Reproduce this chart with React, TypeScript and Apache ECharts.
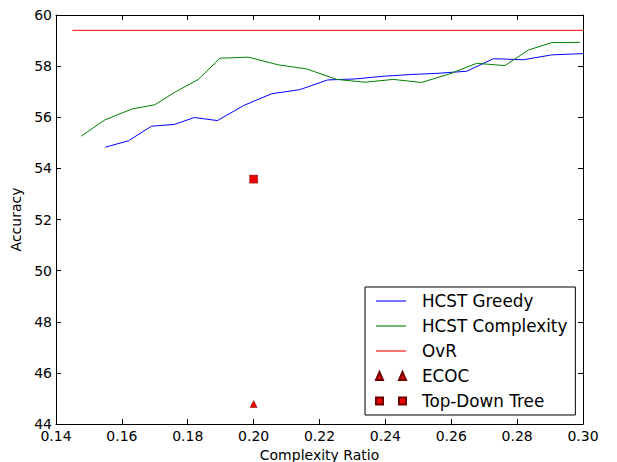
import React, { useEffect, useRef } from "react";
import * as echarts from "echarts";

const greedyX = [0.155, 0.162, 0.169, 0.176, 0.182, 0.189, 0.197, 0.2055, 0.214, 0.2225, 0.231, 0.239, 0.2475, 0.256, 0.2647, 0.2728, 0.2819, 0.2905, 0.3];
const greedyY = [54.83, 55.08, 55.65, 55.72, 55.99, 55.87, 56.46, 56.92, 57.08, 57.46, 57.5, 57.6, 57.67, 57.72, 57.8, 58.29, 58.25, 58.44, 58.49];
const complexityX = [0.1476, 0.1549, 0.163, 0.17, 0.1761, 0.1832, 0.1898, 0.1984, 0.2075, 0.2161, 0.2252, 0.2338, 0.2424, 0.251, 0.2596, 0.2677, 0.2763, 0.2834, 0.2905, 0.2991];
const complexityY = [55.26, 55.9, 56.32, 56.49, 56.98, 57.48, 58.31, 58.35, 58.05, 57.89, 57.48, 57.37, 57.48, 57.36, 57.7, 58.11, 58.02, 58.63, 58.92, 58.93];
const ovrX = [0.145, 0.3];
const ovrY = [59.4, 59.4];
const ecocPoint = [0.2, 44.78];
const topDownPoint = [0.2, 53.58];

const zip = (xs: number[], ys: number[]) => xs.map((x, i) => [x, ys[i]]);

const FONT = "DejaVu Sans";
const LINE_ICON = "path://M0,3.5 L30,3.5 L30,4.6 L0,4.6 Z";

export default function App() {
  const ref = useRef<HTMLDivElement>(null);
  useEffect(() => {
    if (!ref.current) return;
    const chart = echarts.init(ref.current, undefined, { renderer: "svg" });
    const xBase = {
      type: "value" as const,
      min: 0.14,
      max: 0.3,
      interval: 0.02,
      splitLine: { show: false },
      axisLine: { show: true, onZero: false, lineStyle: { color: "#000", width: 1 } },
      axisTick: { show: true, inside: true, length: 5, lineStyle: { color: "#000" } },
    };
    const yBase = {
      type: "value" as const,
      min: 44,
      max: 60,
      interval: 2,
      splitLine: { show: false },
      axisLine: { show: true, onZero: false, lineStyle: { color: "#000", width: 1 } },
      axisTick: { show: true, inside: true, length: 5, lineStyle: { color: "#000" } },
    };
    chart.setOption({
      animation: false,
      backgroundColor: "#fff",
      textStyle: { fontFamily: FONT },
      grid: { left: 56, right: 34, top: 15, bottom: 38, containLabel: false, outerBoundsMode: "none" },
      xAxis: [
        {
          ...xBase,
          position: "bottom",
          name: "Complexity Ratio",
          nameLocation: "middle",
          nameGap: 23,
          nameTextStyle: { fontFamily: FONT, fontSize: 14, color: "#000" },
          axisLabel: {
            fontFamily: FONT,
            fontSize: 14,
            color: "#000",
            margin: 5,
            formatter: (v: number) => v.toFixed(2),
          },
        },
        { ...xBase, position: "top", axisLabel: { show: false } },
      ],
      yAxis: [
        {
          ...yBase,
          position: "left",
          name: "Accuracy",
          nameLocation: "middle",
          nameGap: 27,
          nameTextStyle: { fontFamily: FONT, fontSize: 14, color: "#000" },
          axisLabel: { fontFamily: FONT, fontSize: 14, color: "#000", margin: 4 },
        },
        { ...yBase, position: "right", axisLabel: { show: false } },
      ],
      legend: {
        orient: "vertical",
        left: 365,
        top: 287,
        backgroundColor: "#fff",
        borderColor: "#000",
        borderWidth: 1,
        borderRadius: 0,
        padding: [5, 8, 5, 10],
        itemGap: 7,
        itemWidth: 30,
        itemHeight: 8,
        textStyle: { fontFamily: FONT, fontSize: 16.8, color: "#000", lineHeight: 18, padding: [0, 0, 0, 11] },
        data: [
          { name: "HCST Greedy", icon: LINE_ICON },
          { name: "HCST Complexity", icon: LINE_ICON },
          { name: "OvR", icon: LINE_ICON },
          { name: "ECOC", icon: "path://M0,8 L3.5,0 L7,8 Z M23,8 L26.5,0 L30,8 Z" },
          { name: "Top-Down Tree", icon: "path://M0,0 L7,0 L7,7 L0,7 Z M23,0 L30,0 L30,7 L23,7 Z" },
        ],
      },
      series: [
        {
          name: "HCST Greedy",
          type: "line",
          data: zip(greedyX, greedyY),
          showSymbol: false,
          symbol: "none",
          lineStyle: { color: "#0000ff", width: 1 },
          itemStyle: { color: "#0000ff" },
        },
        {
          name: "HCST Complexity",
          type: "line",
          data: zip(complexityX, complexityY),
          showSymbol: false,
          symbol: "none",
          lineStyle: { color: "#008000", width: 1 },
          itemStyle: { color: "#008000" },
        },
        {
          name: "OvR",
          type: "line",
          data: zip(ovrX, ovrY),
          showSymbol: false,
          symbol: "none",
          lineStyle: { color: "#ff0000", width: 1 },
          itemStyle: { color: "#ff0000" },
        },
        {
          name: "ECOC",
          type: "scatter",
          data: [ecocPoint],
          symbol: "triangle",
          symbolSize: 7,
          itemStyle: { color: "#ee0000", borderColor: "#700000", borderWidth: 0.5, opacity: 1 },
        },
        {
          name: "Top-Down Tree",
          type: "scatter",
          data: [topDownPoint],
          symbol: "rect",
          symbolSize: 8,
          itemStyle: { color: "#ee0000", borderColor: "#700000", borderWidth: 0.5, opacity: 1 },
        },
      ],
    });
    return () => chart.dispose();
  }, []);
  return <div ref={ref} style={{ width: 617, height: 462, position: "absolute", left: 0, top: 0 }} />;
}
